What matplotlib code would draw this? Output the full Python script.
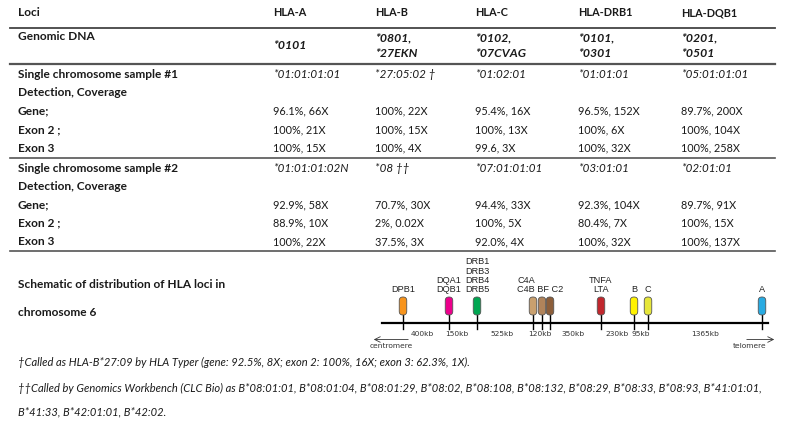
import matplotlib

matplotlib.use("Agg")
import matplotlib.pyplot as plt
from matplotlib.patches import FancyBboxPatch

plt.rcParams["font.family"] = ["Lato", "DejaVu Sans"]

# ---- table data ----
loci = ["HLA-A", "HLA-B", "HLA-C", "HLA-DRB1", "HLA-DQB1"]
genomic = ["*0101", "*0801,\n*27EKN", "*0102,\n*07CVAG", "*0101,\n*0301", "*0201,\n*0501"]

s1_allele = ["*01:01:01:01", "*27:05:02 \u2020", "*01:02:01", "*01:01:01", "*05:01:01:01"]
s1_gene = ["96.1%, 66X", "100%, 22X", "95.4%, 16X", "96.5%, 152X", "89.7%, 200X"]
s1_exon2 = ["100%, 21X", "100%, 15X", "100%, 13X", "100%, 6X", "100%, 104X"]
s1_exon3 = ["100%, 15X", "100%, 4X", "99.6, 3X", "100%, 32X", "100%, 258X"]

s2_allele = ["*01:01:01:02N", "*08 \u2020\u2020", "*07:01:01:01", "*03:01:01", "*02:01:01"]
s2_gene = ["92.9%, 58X", "70.7%, 30X", "94.4%, 33X", "92.3%, 104X", "89.7%, 91X"]
s2_exon2 = ["88.9%, 10X", "2%, 0.02X", "100%, 5X", "80.4%, 7X", "100%, 15X"]
s2_exon3 = ["100%, 22X", "37.5%, 3X", "92.0%, 4X", "100%, 32X", "100%, 137X"]

# ---- chromosome 6 schematic data (schematic position, not to scale) ----
marker_labels = ["DPB1", "DQA1\nDQB1", "DRB1\nDRB3\nDRB4\nDRB5", "C4A\nC4B", "BF", "C2",
                 "TNFA\nLTA", "B", "C", "A"]
marker_pos = [403, 449, 477, 533, 542, 550, 601, 634, 648, 762]
marker_colors = ["#f7941d", "#ec008c", "#00a651", "#c9a06e", "#b0835a", "#8c5e3a",
                 "#c1272d", "#fff200", "#e6e63a", "#29abe2"]
gap_labels = ["400kb", "150kb", "525kb", "120kb", "350kb", "230kb", "95kb", "1365kb"]
gap_pos = [422, 457, 502, 540, 573, 617, 641, 705]

footnotes = [
    "\u2020Called as HLA-B*27:09 by HLA Typer (gene: 92.5%, 8X; exon 2: 100%, 16X; exon 3: 62.3%, 1X).",
    "\u2020\u2020Called by Genomics Workbench (CLC Bio) as B*08:01:01, B*08:01:04, B*08:01:29, B*08:02, "
    "B*08:108, B*08:132, B*08:29, B*08:33, B*08:93, B*41:01:01,",
    "B*41:33, B*42:01:01, B*42:02.",
]

TXT = "#1a1a1a"
FS = 7.8        # plain values
FS_LAB = 8.6    # bold row labels
FS_IT = 8.4     # italic allele calls
FS_BI = 8.8     # bold italic genomic calls

fig = plt.figure(figsize=(7.87, 4.30), dpi=100)
ax = fig.add_axes([0, 0, 1, 1])
ax.set_xlim(0, 787)
ax.set_ylim(430, 0)
ax.axis("off")

col_x = [273, 375, 475, 578, 681]
lab_x = 18


def row(y, label, values=None, style="normal", size=FS):
    ax.text(lab_x, y, label, fontsize=FS_LAB, fontweight="bold", color=TXT, va="center")
    if values is None:
        return
    for x, v in zip(col_x, values):
        ax.text(x, y, v, fontsize=size, style=style, color=TXT, va="center")


# header
ax.text(lab_x, 13, "Loci", fontsize=FS_LAB, fontweight="bold", color=TXT, va="center")
for x, l in zip(col_x, loci):
    ax.text(x, 13, l, fontsize=FS, fontweight="bold", color=TXT, va="center")
ax.plot([10, 775], [28, 28], color="#444444", lw=1.3)

# genomic DNA
ax.text(lab_x, 36, "Genomic DNA", fontsize=FS_LAB, fontweight="bold", color=TXT, va="center")
for x, g in zip(col_x, genomic):
    ax.text(x, 45.5, g, fontsize=FS_BI, style="italic", fontweight="bold", color=TXT,
            va="center", linespacing=1.5)
ax.plot([10, 775], [64, 64], color="#555555", lw=1.6)

# sample #1
row(74, "Single chromosome sample #1", s1_allele, style="italic", size=FS_IT)
row(92.5, "Detection, Coverage")
row(111, "Gene;", s1_gene)
row(130, "Exon 2 ;", s1_exon2)
row(148, "Exon 3", s1_exon3)
ax.plot([10, 775], [158, 158], color="#555555", lw=1.2)

# sample #2
row(168, "Single chromosome sample #2", s2_allele, style="italic", size=FS_IT)
row(186, "Detection, Coverage")
row(204.5, "Gene;", s2_gene)
row(223, "Exon 2 ;", s2_exon2)
row(241.5, "Exon 3", s2_exon3)
ax.plot([10, 775], [251, 251], color="#555555", lw=1.2)

# schematic label
ax.text(lab_x, 284, "Schematic of distribution of HLA loci in", fontsize=FS_LAB,
        fontweight="bold", color=TXT, va="center")
ax.text(lab_x, 312, "chromosome 6", fontsize=FS_LAB, fontweight="bold", color=TXT,
        va="center")

# chromosome line
line_y = 322.5
ax.plot([382, 768], [line_y, line_y], color="black", lw=1.6, zorder=1)
pill_w, pill_h, pill_top = 7.5, 18, 297
for x, c in zip(marker_pos, marker_colors):
    ax.plot([x, x], [pill_top + pill_h, line_y + 6], color="black", lw=1.0, zorder=1)
    ax.add_patch(FancyBboxPatch((x - pill_w / 2, pill_top), pill_w, pill_h,
                                boxstyle="round,pad=0,rounding_size=3.6",
                                fc=c, ec="#555555", lw=0.6, zorder=2))

SFS = 6.6
lab_kw = dict(fontsize=SFS, family="Liberation Sans", color="#222222", va="bottom",
              linespacing=1.05)
for lab, x in zip(marker_labels, marker_pos):
    if lab.startswith("C4") or lab in ("BF", "C2"):
        continue
    ax.text(x, 294.5, lab, ha="center", **lab_kw)
# the complement cluster (C4A/C4B, BF, C2) is labelled as one block
c4, bf, c2 = marker_labels[3:6]
c4a, c4b = c4.split("\n")
ax.text(marker_pos[3] - 16, 294.5, f"{c4a}\n{c4b} {bf} {c2}", ha="left", **lab_kw)

for lab, x in zip(gap_labels, gap_pos):
    ax.text(x, 333.5, lab, fontsize=5.4, family="DejaVu Sans", color="#333333",
            ha="center", va="center")

# centromere / telomere arrows
ax.annotate("", xy=(371, 339.5), xytext=(411, 339.5),
            arrowprops=dict(arrowstyle="->", lw=0.6, color="#333333"))
ax.text(391, 345.5, "centromere", fontsize=5.4, family="DejaVu Sans", color="#333333",
        ha="center", va="center")
ax.annotate("", xy=(777, 339.5), xytext=(744, 339.5),
            arrowprops=dict(arrowstyle="->", lw=0.6, color="#333333"))
ax.text(750, 345.5, "telomere", fontsize=5.4, family="DejaVu Sans", color="#333333",
        ha="center", va="center")

# footnotes
for y, t in zip([362, 388, 412], footnotes):
    ax.text(lab_x, y, t, fontsize=8.0, style="italic", color=TXT, va="center")

fig.savefig("out.png", dpi=100)
